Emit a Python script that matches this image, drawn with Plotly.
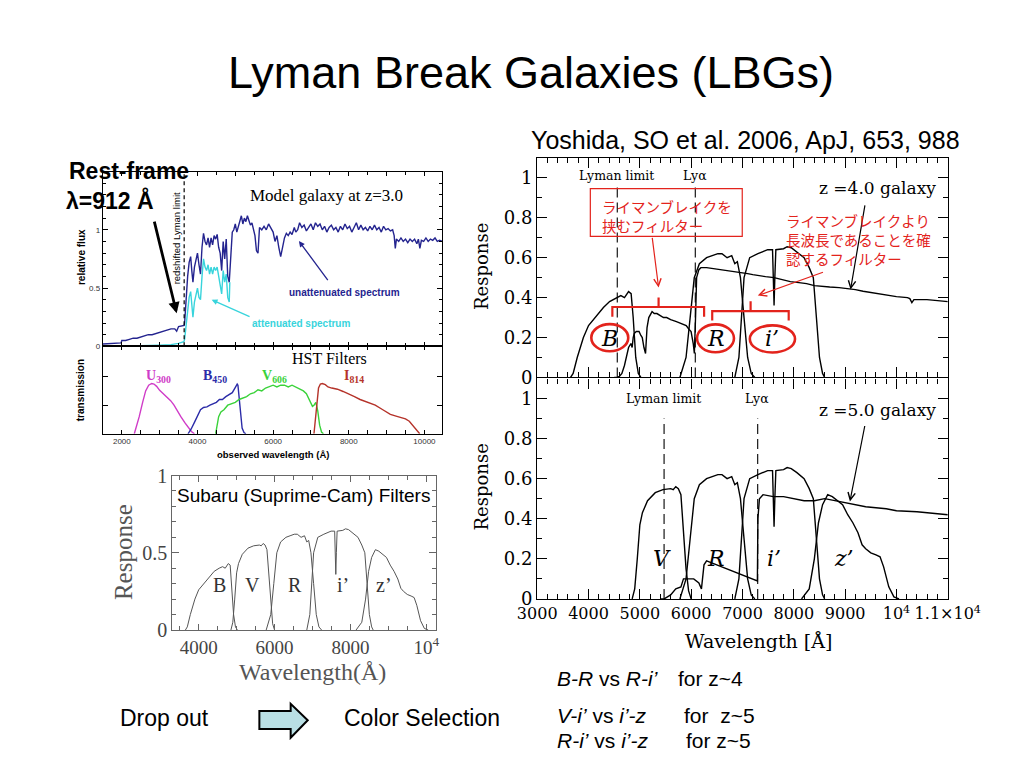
import plotly.graph_objects as go

W, H = 1024, 768

# ---------------- data ----------------
# Model galaxy at z=3.0 : unattenuated spectrum (wavelength A, relative flux)
z3_unattenuated = [
    (1500, 0.02), (1700, 0.025), (1900, 0.03), (1980, 0.03), (2000, 0.05), (2100, 0.05), (2200, 0.06),
    (2300, 0.07), (2400, 0.07), (2500, 0.08), (2600, 0.09), (2700, 0.10), (2800, 0.10), (2900, 0.11),
    (3000, 0.12), (3100, 0.13), (3200, 0.14), (3300, 0.15), (3400, 0.15), (3450, 0.13), (3500, 0.17),
    (3600, 0.18), (3648, 0.18), (3660, 0.20), (3700, 0.45), (3740, 0.60), (3780, 0.72), (3820, 0.77),
    (3850, 0.65), (3880, 0.55), (3920, 0.68), (3960, 0.75), (4000, 0.80), (4040, 0.70), (4080, 0.62),
    (4120, 0.85), (4160, 0.97), (4200, 0.90), (4240, 0.87), (4280, 0.93), (4320, 0.85), (4360, 0.93),
    (4400, 0.87), (4440, 0.95), (4480, 0.92), (4520, 0.96), (4560, 0.85), (4600, 0.80), (4640, 0.65),
    (4680, 0.90), (4720, 0.75), (4760, 0.92), (4800, 0.60), (4840, 0.55), (4880, 0.80), (4920, 0.98),
    (4960, 1.00), (5000, 1.05), (5040, 0.98), (5080, 1.02), (5120, 1.08), (5160, 1.12), (5200, 1.05),
    (5240, 1.10), (5280, 1.07), (5320, 1.12), (5360, 1.08), (5400, 1.04), (5440, 1.06), (5480, 1.00),
    (5520, 0.95), (5560, 0.82), (5600, 0.80), (5640, 1.02), (5700, 1.00), (5760, 1.03), (5820, 1.00),
    (5880, 1.05), (5940, 1.02), (6000, 0.98), (6050, 0.90), (6100, 0.95), (6150, 0.85), (6200, 0.77),
    (6250, 0.85), (6300, 0.93), (6350, 0.97), (6400, 0.95), (6450, 0.98), (6500, 0.96), (6560, 1.02),
    (6600, 0.98), (6650, 1.00), (6700, 1.06), (6760, 1.02), (6820, 1.04), (6880, 0.99), (6940, 1.02),
    (7000, 1.05), (7060, 1.00), (7120, 1.06), (7180, 1.03), (7240, 1.05), (7300, 1.00), (7360, 1.03),
    (7420, 0.98), (7480, 1.02), (7540, 1.04), (7600, 1.00), (7660, 1.02), (7720, 0.98), (7780, 1.03),
    (7840, 1.00), (7900, 1.05), (7960, 1.01), (8020, 1.03), (8080, 0.98), (8140, 1.02), (8200, 1.06),
    (8260, 1.00), (8320, 1.04), (8380, 1.00), (8440, 1.02), (8500, 0.99), (8560, 1.03), (8620, 1.00),
    (8680, 1.04), (8740, 1.00), (8800, 1.02), (8860, 0.98), (8920, 1.03), (8980, 1.00), (9040, 1.01),
    (9100, 0.99), (9160, 1.00), (9200, 0.95), (9230, 0.84), (9260, 0.92), (9320, 0.90), (9380, 0.93),
    (9440, 0.90), (9500, 0.92), (9560, 0.89), (9620, 0.92), (9680, 0.90), (9740, 0.92), (9800, 0.88),
    (9840, 0.92), (9880, 0.84), (9920, 0.91), (9980, 0.90), (10040, 0.93), (10100, 0.90), (10160, 0.92),
    (10220, 0.91), (10280, 0.93), (10340, 0.90), (10400, 0.91), (10475, 0.90),
]
# attenuated spectrum (IGM absorbed), drawn where it differs
z3_attenuated = [
    (1500, 0.0), (2000, 0.0), (2500, 0.005), (3000, 0.01), (3300, 0.015), (3500, 0.025), (3640, 0.04),
    (3660, 0.06), (3700, 0.20), (3740, 0.32), (3780, 0.42), (3820, 0.47), (3860, 0.30), (3880, 0.25),
    (3920, 0.38), (3960, 0.45), (4000, 0.50), (4040, 0.42), (4080, 0.40), (4120, 0.60), (4160, 0.75),
    (4200, 0.68), (4240, 0.65), (4280, 0.70), (4320, 0.62), (4360, 0.68), (4400, 0.62), (4440, 0.68),
    (4480, 0.65), (4520, 0.68), (4560, 0.60), (4600, 0.55), (4640, 0.45), (4680, 0.65), (4720, 0.55),
    (4760, 0.62), (4800, 0.42), (4840, 0.38), (4855, 0.55),
]
z3_lyman_limit = 3648

# HST filter transmission curves
hst_u300 = [(2330, 0), (2400, 0.15), (2460, 0.30), (2550, 0.55), (2630, 0.75), (2710, 0.85), (2790, 0.88),
            (2850, 0.87), (2920, 0.83), (3000, 0.76), (3125, 0.68), (3200, 0.64), (3290, 0.58), (3380, 0.50),
            (3460, 0.40), (3560, 0.30), (3670, 0.19), (3760, 0.10), (3840, 0.04), (3920, 0)]
hst_b450 = [(3750, 0), (3830, 0.08), (3920, 0.20), (4000, 0.32), (4080, 0.42), (4160, 0.46), (4250, 0.47),
            (4330, 0.50), (4420, 0.52), (4500, 0.55), (4580, 0.60), (4660, 0.60), (4750, 0.65), (4830, 0.68),
            (4920, 0.72), (4990, 0.80), (5050, 0.87), (5070, 0.85), (5100, 0.60), (5140, 0.30), (5180, 0.10),
            (5230, 0.02), (5280, 0)]
hst_v606 = [(4480, 0), (4520, 0.15), (4560, 0.30), (4620, 0.38), (4700, 0.42), (4800, 0.50), (4900, 0.52),
            (5000, 0.55), (5100, 0.60), (5200, 0.62), (5300, 0.65), (5400, 0.70), (5500, 0.72), (5600, 0.77),
            (5700, 0.75), (5800, 0.80), (5900, 0.82), (6000, 0.85), (6100, 0.82), (6200, 0.85), (6300, 0.85),
            (6400, 0.82), (6500, 0.85), (6600, 0.82), (6700, 0.78), (6800, 0.75), (6880, 0.70), (6950, 0.60),
            (7000, 0.52), (7040, 0.48), (7080, 0.50), (7130, 0.55), (7180, 0.40), (7230, 0.15), (7280, 0.03),
            (7330, 0)]
hst_i814 = [(7080, 0), (7120, 0.30), (7160, 0.60), (7200, 0.80), (7250, 0.87), (7300, 0.88), (7380, 0.86),
            (7450, 0.82), (7550, 0.80), (7700, 0.78), (7850, 0.74), (8000, 0.70), (8150, 0.65), (8300, 0.60),
            (8450, 0.56), (8700, 0.50), (8900, 0.42), (9100, 0.34), (9250, 0.31), (9400, 0.28), (9500, 0.26),
            (9600, 0.22), (9700, 0.14), (9800, 0.05), (9875, 0)]

# Subaru Suprime-Cam filter responses
sub_B = [(3650, 0), (3700, 0.02), (3780, 0.10), (3900, 0.20), (4000, 0.26), (4130, 0.30), (4290, 0.35),
         (4410, 0.38), (4540, 0.40), (4630, 0.41), (4700, 0.40), (4780, 0.43), (4830, 0.42), (4870, 0.30),
         (4920, 0.10), (4970, 0.02), (5020, 0)]
sub_V = [(4850, 0), (4900, 0.05), (4950, 0.20), (5000, 0.37), (5050, 0.43), (5150, 0.49), (5300, 0.53),
         (5450, 0.545), (5600, 0.55), (5650, 0.545), (5700, 0.56), (5750, 0.55), (5800, 0.52), (5850, 0.35),
         (5900, 0.15), (5950, 0.04), (6000, 0)]
sub_R = [(5780, 0), (5900, 0.10), (5980, 0.30), (6060, 0.50), (6160, 0.57), (6300, 0.60), (6410, 0.61),
         (6520, 0.62), (6600, 0.62), (6700, 0.60), (6790, 0.61), (6850, 0.57), (6900, 0.58), (6960, 0.50),
         (7030, 0.30), (7100, 0.10), (7170, 0.02), (7240, 0)]
sub_i = [(6850, 0), (6930, 0.10), (7030, 0.50), (7140, 0.60), (7300, 0.62), (7490, 0.64), (7585, 0.64),
         (7605, 0.50), (7615, 0.36), (7630, 0.50), (7650, 0.64), (7800, 0.645), (7870, 0.655), (7950, 0.65),
         (8060, 0.63), (8200, 0.60), (8300, 0.55), (8380, 0.50), (8440, 0.30), (8500, 0.10), (8560, 0.02),
         (8600, 0)]
sub_z = [(8150, 0), (8300, 0.05), (8400, 0.20), (8480, 0.38), (8560, 0.47), (8660, 0.52), (8750, 0.51),
         (8850, 0.49), (8950, 0.47), (9050, 0.42), (9150, 0.38), (9250, 0.33), (9330, 0.27), (9400, 0.25),
         (9500, 0.23), (9600, 0.22), (9680, 0.21), (9750, 0.16), (9850, 0.06), (9950, 0.01), (10050, 0)]

# model LBG spectra seen through the IGM
gal_z4 = [(4500, 0), (4560, 0), (4600, 0.005), (4650, 0.02), (4700, 0.06), (4730, 0.10), (4780, 0.15),
          (4826, 0.17), (4850, 0.15), (4870, 0.20), (4890, 0.22), (4930, 0.23), (4984, 0.23), (5020, 0.21),
          (5047, 0.20), (5080, 0.15), (5111, 0.12), (5140, 0.25), (5174, 0.30), (5238, 0.33), (5280, 0.32),
          (5333, 0.32), (5400, 0.31), (5460, 0.30), (5523, 0.30), (5600, 0.29), (5713, 0.28), (5800, 0.27),
          (5903, 0.26), (5960, 0.24), (5998, 0.23), (6040, 0.17), (6062, 0.12), (6085, 0.30), (6106, 0.50),
          (6150, 0.54), (6189, 0.55), (6300, 0.55), (6450, 0.545), (6600, 0.54), (6750, 0.535), (6900, 0.53),
          (6981, 0.525), (7100, 0.52), (7200, 0.515), (7298, 0.51), (7450, 0.505), (7615, 0.50), (7750, 0.49),
          (7932, 0.48), (8100, 0.475), (8249, 0.47), (8400, 0.46), (8566, 0.455), (8700, 0.453), (8883, 0.45),
          (9050, 0.445), (9200, 0.44), (9350, 0.432), (9517, 0.425), (9700, 0.415), (9833, 0.41),
          (10000, 0.405), (10214, 0.40), (10260, 0.395), (10300, 0.375), (10340, 0.39), (10450, 0.39),
          (10594, 0.39), (10800, 0.385), (11000, 0.38)]
gal_z5 = [(5400, 0), (5474, 0), (5600, 0.02), (5700, 0.05), (5800, 0.06), (5850, 0.10), (5950, 0.10),
          (6050, 0.10), (6150, 0.08), (6200, 0.05), (6250, 0.17), (6300, 0.19), (6400, 0.18), (6600, 0.16),
          (6800, 0.14), (7000, 0.12), (7200, 0.10), (7290, 0.09), (7300, 0.40), (7330, 0.50), (7400, 0.52),
          (7600, 0.51), (7800, 0.51), (8000, 0.50), (8200, 0.49), (8400, 0.49), (8600, 0.50), (8800, 0.49),
          (9000, 0.48), (9200, 0.47), (9400, 0.46), (9600, 0.455), (9800, 0.45), (10000, 0.44),
          (10400, 0.435), (10800, 0.425), (11000, 0.42)]
z4_lyman_limit, z4_lya = 4560, 6080
z5_lyman_limit, z5_lya = 5472, 7296

right_xticks = [3000, 4000, 5000, 6000, 7000, 8000, 9000, 10000, 11000]
right_xlabels = ["3000", "4000", "5000", "6000", "7000", "8000", "9000", "10<sup>4</sup>", "1.1×10<sup>4</sup>"]
right_yticks = [0, 0.2, 0.4, 0.6, 0.8, 1.0]
right_ylabels = ["0", "0.2", "0.4", "0.6", "0.8", "1"]
subaru_xticks = [4000, 6000, 8000, 10000]
subaru_xlabels = ["4000", "6000", "8000", "10<sup>4</sup>"]
hst_xticks = [2000, 4000, 6000, 8000, 10000]
hst_xlabels = ["2000", "4000", "6000", "8000", "10000"]

# ---------------- helpers ----------------
SANS = "Liberation Sans, Arial, sans-serif"
SERIF = "Liberation Serif, Times New Roman, serif"
DSERIF = "DejaVu Serif, serif"
JP = "Noto Sans CJK JP, sans-serif"
RED = "#e3231c"
NAVY = "#24248f"
CYAN = "#38d4dc"


def fx(x):
    return x / W


def fy(y):
    return 1 - y / H


def xy(pairs):
    return [p[0] for p in pairs], [p[1] for p in pairs]


fig = go.Figure()


def line(pairs, ax, color, width=1.4):
    x, y = xy(pairs)
    fig.add_trace(go.Scatter(x=x, y=y, mode="lines", xaxis="x" + ax, yaxis="y" + ax,
                             line=dict(color=color, width=width), hoverinfo="skip"))


line(z3_unattenuated, "", NAVY, 1.4)
line(z3_attenuated, "", CYAN, 1.4)
line(hst_u300, "2", "#d03cc8", 1.4)
line(hst_b450, "2", "#2c2ca8", 1.4)
line(hst_v606, "2", "#3ad23a", 1.4)
line(hst_i814, "2", "#b5332a", 1.4)
for f in (sub_B, sub_V, sub_R, sub_i, sub_z):
    line(f, "3", "#555555", 1.0)
for f in (sub_B, sub_R, sub_i):
    line(f, "4", "black", 1.4)
line(gal_z4, "4", "black", 1.4)
for f in (sub_V, sub_R, sub_i, sub_z):
    line(f, "5", "black", 1.4)
line(gal_z5, "5", "black", 1.4)


def axis(domain, rng, anchor, color="black", lw=1.2, ticklen=6, minor=None, **kw):
    d = dict(domain=domain, range=rng, anchor=anchor, showgrid=False, zeroline=False,
             showline=True, mirror="ticks", linecolor=color, linewidth=lw, ticks="inside",
             ticklen=ticklen, tickcolor=color, tickwidth=lw, fixedrange=True, tickangle=0)
    if minor:
        m = dict(ticks="inside", tickcolor=color, tickwidth=lw, showgrid=False)
        m.update(minor)
        d["minor"] = m
    d.update(kw)
    return d


# panel A (model galaxy) and B (HST filters)
xa_dom = [fx(79), fx(437)]
fig.update_layout(
    xaxis=axis(xa_dom, [1500, 10475], "y", ticklen=4, tickmode="linear", tick0=2000, dtick=1000,
               showticklabels=False, minor=dict(tickmode="linear", tick0=1500, dtick=500, ticklen=3)),
    yaxis=axis([fy(337), fy(157)], [0, 1.5], "x", ticklen=5, tickmode="array", tickvals=[0, 0.5, 1],
               ticktext=["0", "0.5", "1"], tickfont=dict(family=SANS, size=8, color="#333"),
               minor=dict(tickmode="linear", tick0=0, dtick=0.1, ticklen=3)),
    xaxis2=axis(xa_dom, [1500, 10475], "y2", ticklen=4, tickmode="array", tickvals=hst_xticks,
                ticktext=hst_xlabels, tickfont=dict(family=SANS, size=8, color="#333"),
                minor=dict(tickmode="linear", tick0=1500, dtick=500, ticklen=4)),
    yaxis2=axis([fy(427), fy(337)], [0, 1.53], "x2", ticklen=5, tickmode="array", tickvals=[0.5, 1.0],
                showticklabels=False),
    xaxis3=axis([fx(152), fx(430)], [3300, 10250], "y3", color="#666", lw=1, ticklen=6, tickmode="array",
                tickvals=subaru_xticks, ticktext=subaru_xlabels,
                tickfont=dict(family=SERIF, size=19, color="#444"),
                minor=dict(tickmode="linear", tick0=3500, dtick=500, ticklen=4)),
    yaxis3=axis([fy(629), fy(470)], [0, 1], "x3", color="#666", lw=1, ticklen=7, tickmode="array",
                tickvals=[0, 0.5, 1], ticktext=["0", "0.5", "1"],
                tickfont=dict(family=SERIF, size=20, color="#444"),
                minor=dict(tickmode="linear", tick0=0, dtick=0.1, ticklen=4)),
    xaxis4=axis([fx(537), fx(970)], [3000, 11000], "y4", lw=1.3, ticklen=10, tickmode="array",
                tickvals=right_xticks, showticklabels=False,
                minor=dict(tickmode="linear", tick0=3000, dtick=200, ticklen=5)),
    yaxis4=axis([fy(369), fy(143)], [0, 1.1], "x4", lw=1.3, ticklen=10, tickmode="array",
                tickvals=right_yticks, ticktext=right_ylabels,
                tickfont=dict(family=DSERIF, size=18, color="black"),
                minor=dict(tickmode="linear", tick0=0, dtick=0.1, ticklen=5)),
    xaxis5=axis([fx(537), fx(970)], [3000, 11000], "y5", lw=1.3, ticklen=10, tickmode="array",
                tickvals=right_xticks, ticktext=right_xlabels,
                tickfont=dict(family=DSERIF, size=16, color="black"),
                minor=dict(tickmode="linear", tick0=3000, dtick=200, ticklen=5)),
    yaxis5=axis([fy(597), fy(370)], [0, 1.1], "x5", lw=1.3, ticklen=10, tickmode="array",
                tickvals=right_yticks, ticktext=right_ylabels,
                tickfont=dict(family=DSERIF, size=18, color="black"),
                minor=dict(tickmode="linear", tick0=0, dtick=0.1, ticklen=5)),
)

# ---------------- shapes ----------------
shapes = []


def vdash(x, y0, y1, ax, width=1.1, dash="10px,5px"):
    shapes.append(dict(type="line", xref="x" + ax, yref="y" + ax, x0=x, x1=x, y0=y0, y1=y1,
                       line=dict(color="black", width=width, dash=dash)))


vdash(z3_lyman_limit, 0, 1.5, "", 1.2, "4px,3px")
vdash(z4_lyman_limit, 0, 0.96, "4")
vdash(z4_lya, 0, 0.96, "4")
vdash(z5_lyman_limit, 0, 0.9, "5")
vdash(z5_lya, 0, 0.9, "5")

# red box
shapes.append(dict(type="rect", xref="x4", yref="y4", x0=4035, x1=6995, y0=0.707, y1=0.946,
                   line=dict(color=RED, width=1.2)))
# red brackets
shapes.append(dict(type="path", xref="x4", yref="y4",
                   path="M4464,0.304 L4464,0.353 L6252,0.353 L6252,0.304 M5365,0.353 L5365,0.40",
                   line=dict(color=RED, width=2.2)))
shapes.append(dict(type="path", xref="x4", yref="y4",
                   path="M6410,0.285 L6410,0.332 L7900,0.332 L7900,0.285 M7158,0.332 L7158,0.382",
                   line=dict(color=RED, width=2.2)))
# red ellipses around filter names
for cx, cy, rx, ry in [(4414, 0.199, 360, 0.068), (6474, 0.196, 360, 0.07), (7583, 0.193, 440, 0.068)]:
    shapes.append(dict(type="circle", xref="x4", yref="y4", x0=cx - rx, x1=cx + rx, y0=cy - ry,
                       y1=cy + ry, line=dict(color=RED, width=2.6)))

# block arrow (Drop out -> Color Selection)
pts = [(244, 712.5), (277, 712.5), (277, 705), (295, 722), (277, 740), (277, 731), (244, 731)]
path = "M" + " L".join(f"{fx(a):.5f},{fy(b):.5f}" for a, b in pts) + " Z"
shapes.append(dict(type="path", xref="paper", yref="paper", path=path, fillcolor="#b9dfe4",
                   line=dict(color="black", width=2)))

# ---------------- annotations ----------------
anns = []


def text(t, x, y, size, xref="paper", yref="paper", color="black", family=SANS, xanchor="center",
         yanchor="middle", angle=0, align="center"):
    if xref == "paper":
        x = fx(x)
    if yref == "paper":
        y = fy(y)
    anns.append(dict(text=t, x=x, y=y, xref=xref, yref=yref, showarrow=False, xanchor=xanchor,
                     yanchor=yanchor, textangle=angle, align=align,
                     font=dict(size=size, color=color, family=family)))


def arrow(x, y, ax_, ay_, ref, color, width=1.2, head=5, size=1.0):
    anns.append(dict(text="", x=x, y=y, ax=ax_, ay=ay_, xref="x" + ref, yref="y" + ref,
                     axref="x" + ref, ayref="y" + ref, showarrow=True, arrowhead=head,
                     arrowsize=size, arrowwidth=width, arrowcolor=color, standoff=0, startstandoff=0))


# slide texts
text("Lyman Break Galaxies (LBGs)", 530, 55, 45)
text("Yoshida, SO et al. 2006, ApJ, 653, 988", 757, 125, 25)
text("<b>Rest-frame</b>", 41, 156, 23, xanchor="left")
text("<b>λ=912 Å</b>", 38, 187, 23, xanchor="left")
text("Drop out", 144, 720, 23)
text("Color Selection", 415, 720, 23)
text("<i>B-R</i> vs <i>R-i’</i>", 556, 679, 21, xanchor="left")
text("for z~4", 683, 679, 21, xanchor="left")
text("<i>V-i’</i> vs <i>i’-z</i>", 556, 717, 21, xanchor="left")
text("for  z~5", 690, 717, 21, xanchor="left")
text("<i>R-i’</i> vs <i>i’-z</i>", 556, 743, 21, xanchor="left")
text("for z~5", 692, 743, 21, xanchor="left")

# panel A / B texts
text("<b>relative flux</b>", 57, 245, 10, angle=-90)
text("<b>transmission</b>", 55, 382, 10, angle=-90)
text("<b>observed wavelength (Å)</b>", 258, 448, 9.5)
text("Model galaxy at z=3.0", 7400, 1.29, 17, xref="x", yref="y", family=SERIF)
text("redshifted Lyman limit", 3470, 0.93, 9.5, xref="x", yref="y", angle=-90)
text("<b>unattenuated spectrum</b>", 7875, 0.458, 10, xref="x", yref="y", color=NAVY)
text("<b>attenuated spectrum</b>", 6733, 0.20, 10, xref="x", yref="y", color=CYAN)
arrow(6683, 0.903, 7475, 0.556, "", NAVY, 1.3, 2, 0.9)
arrow(4375, 0.40, 5417, 0.25, "", CYAN, 1.3, 2, 0.9)
arrow(3450, 0.283, 2850, 1.083, "", "black", 2.8, 2, 0.8)
text("HST Filters", 318, 349, 16, family=SERIF)
text("<b>U<sub>300</sub></b>", 2975, 1.0, 14, xref="x2", yref="y2", color="#d03cc8", family=SERIF)
text("<b>B<sub>450</sub></b>", 4475, 1.0, 14, xref="x2", yref="y2", color="#2c2ca8", family=SERIF)
text("<b>V<sub>606</sub></b>", 6025, 1.0, 14, xref="x2", yref="y2", color="#3ad23a", family=SERIF)
text("<b>I<sub>814</sub></b>", 8150, 1.0, 14, xref="x2", yref="y2", color="#b5332a", family=SERIF)

# panel C texts
text("Subaru (Suprime-Cam) Filters", 291, 491, 19, family=SANS)
text("Response", 100, 549, 25, angle=-90, family=SERIF, color="#555")
text("Wavelength(Å)", 300, 672, 24, family=SERIF, color="#555")
for lab, xv in [("B", 4542), ("V", 5417), ("R", 6542), ("i’", 7792), ("z’", 8875)]:
    text(lab, xv, 0.29, 20, xref="x3", yref="y3", family=SERIF, color="#333")

# panels D / E texts
text("Response", 478, 255, 18, angle=-90, family=DSERIF)
text("Response", 478, 482, 18, angle=-90, family=DSERIF)
text("Wavelength [Å]", 770, 640, 19, family=DSERIF)
text("Lyman limit", 4540, 1.01, 12.5, xref="x4", yref="y4", family=DSERIF)
text("Lyα", 6068, 1.01, 12.5, xref="x4", yref="y4", family=DSERIF)
text("z =4.0 galaxy", 9627, 0.948, 17, xref="x4", yref="y4", family=DSERIF)
text("Lyman limit", 5468, 1.0, 12.5, xref="x5", yref="y5", family=DSERIF)
text("Lyα", 7292, 1.0, 12.5, xref="x5", yref="y5", family=DSERIF)
text("z =5.0 galaxy", 9625, 0.94, 17, xref="x5", yref="y5", family=DSERIF)
arrow(9105, 0.44, 9390, 0.87, "4", "black", 1.2, 5, 1.2)
arrow(9093, 0.486, 9388, 0.87, "5", "black", 1.2, 5, 1.2)
for lab, xv in [("B", 4414), ("R", 6474), ("i’", 7583)]:
    text(f"<i>{lab}</i>", xv, 0.195, 22, xref="x4", yref="y4", family=DSERIF)
for lab, xv in [("V", 5441), ("R", 6492), ("i’", 7607), ("z’", 8985)]:
    text(f"<i>{lab}</i>", xv, 0.20, 22, xref="x5", yref="y5", family=DSERIF)

# red Japanese notes
text("ライマンブレイクを<br>挟むフィルター", 4215, 0.81, 14.5, xref="x4", yref="y4", color=RED,
     family=JP, xanchor="left", align="left")
text("ライマンブレイクより<br>長波長であることを確<br>認するフィルター", 7800, 0.69, 14.5, xref="x4",
     yref="y4", color=RED, family=JP, xanchor="left", align="left")
arrow(5365, 0.45, 5238, 0.707, "4", RED, 1.2, 5, 1.2)
arrow(7298, 0.41, 8597, 0.53, "4", RED, 1.2, 5, 1.2)

fig.update_layout(shapes=shapes, annotations=anns, width=W, height=H,
                  margin=dict(l=0, r=0, t=0, b=0), paper_bgcolor="white", plot_bgcolor="white",
                  showlegend=False)
fig.write_html("out.html")
